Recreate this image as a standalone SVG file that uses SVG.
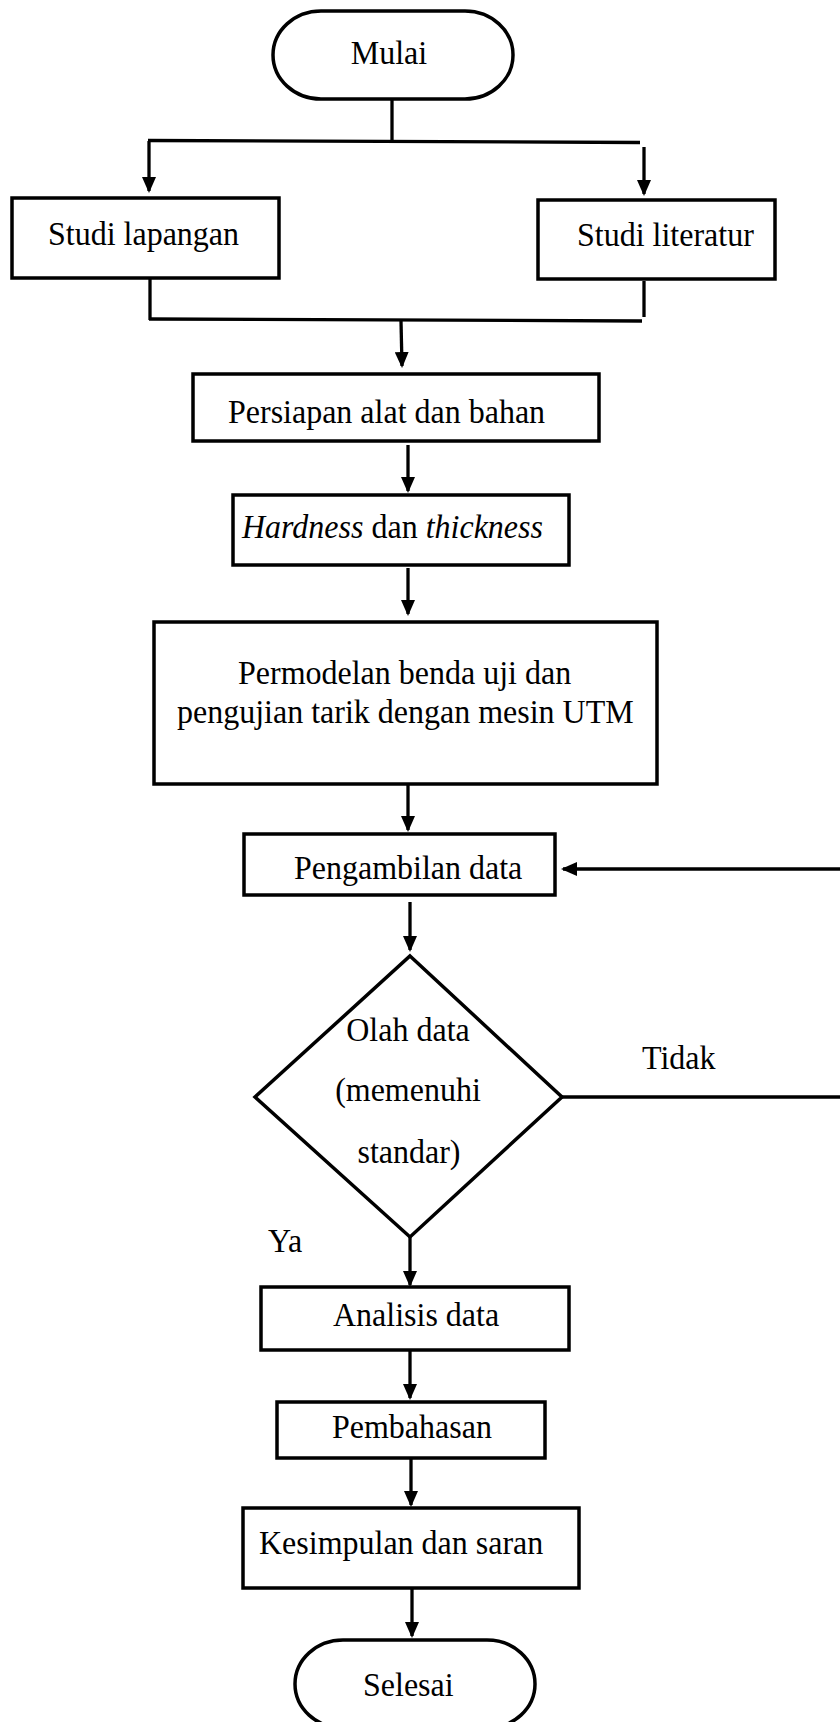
<svg xmlns="http://www.w3.org/2000/svg" width="840" height="1722" viewBox="0 0 840 1722">
<defs>
<style>
.box{fill:#fff;stroke:#000;stroke-width:3.5}
.ln{fill:none;stroke:#000;stroke-width:3.3}
.t{font-family:"Liberation Serif","Times New Roman",serif;font-size:32px;fill:#000;transform-box:fill-box;transform-origin:center;transform:scaleY(1.08)}
.c{text-anchor:middle}
</style>
<marker id="ah" viewBox="0 0 16 14" refX="14" refY="7" markerWidth="16" markerHeight="14" markerUnits="userSpaceOnUse" orient="auto">
<path d="M0,0 L16,7 L0,14 z" fill="#000"/>
</marker>
</defs>
<rect width="840" height="1722" fill="#fff"/>
<g id="connectors">
<path class="ln" d="M392,99 L392,141"/>
<path class="ln" d="M148,140.5 L640,142.5"/>
<path class="ln" d="M149,141 L149,191" marker-end="url(#ah)"/>
<path class="ln" d="M644,147 L644,194" marker-end="url(#ah)"/>
<path class="ln" d="M150,278 L150,320"/>
<path class="ln" d="M644,281 L644,317"/>
<path class="ln" d="M149,319 L642,321"/>
<path class="ln" d="M401,321 L402,366" marker-end="url(#ah)"/>
<path class="ln" d="M408,445 L408,491" marker-end="url(#ah)"/>
<path class="ln" d="M408,568 L408,614" marker-end="url(#ah)"/>
<path class="ln" d="M408,784 L408,830" marker-end="url(#ah)"/>
<path class="ln" d="M840,869 L563,869" marker-end="url(#ah)"/>
<path class="ln" d="M410,902 L410,950" marker-end="url(#ah)"/>
<path class="ln" d="M562,1097 L840,1097"/>
<path class="ln" d="M410,1237 L410,1285" marker-end="url(#ah)"/>
<path class="ln" d="M410,1350 L410,1398" marker-end="url(#ah)"/>
<path class="ln" d="M411,1458 L411,1505" marker-end="url(#ah)"/>
<path class="ln" d="M412,1588 L412,1636" marker-end="url(#ah)"/>
</g>
<g id="mulai">
<rect class="box" x="273" y="11" width="240" height="88" rx="48" ry="44"/>
<text class="t c" x="389" y="63">Mulai</text>
</g>
<g id="studi-lapangan">
<rect class="box" x="12" y="198" width="267" height="80"/>
<text class="t" x="48" y="244">Studi lapangan</text>
</g>
<g id="studi-literatur">
<rect class="box" x="538" y="200" width="237" height="79"/>
<text class="t" x="577" y="245">Studi literatur</text>
</g>
<g id="persiapan">
<rect class="box" x="193" y="374" width="406" height="67"/>
<text class="t" x="228" y="422">Persiapan alat dan bahan</text>
</g>
<g id="hardness">
<rect class="box" x="233" y="495" width="336" height="70"/>
<text class="t" x="242" y="537"><tspan font-style="italic">Hardness</tspan> dan <tspan font-style="italic">thickness</tspan></text>
</g>
<g id="permodelan">
<rect class="box" x="154" y="622" width="503" height="162"/>
<text class="t" x="238" y="683">Permodelan benda uji dan</text>
<text class="t" x="177" y="722">pengujian tarik dengan mesin UTM</text>
</g>
<g id="pengambilan">
<rect class="box" x="244" y="834" width="311" height="61"/>
<text class="t" x="294" y="878">Pengambilan data</text>
</g>
<g id="olah-data">
<polygon class="box" points="410,956 562,1097 410,1237 255,1097"/>
<text class="t c" x="408" y="1040">Olah data</text>
<text class="t c" x="408" y="1100">(memenuhi</text>
<text class="t c" x="409" y="1162">standar)</text>
</g>
<g id="labels">
<text class="t" x="642" y="1068">Tidak</text>
<text class="t" x="268" y="1251">Ya</text>
</g>
<g id="analisis">
<rect class="box" x="261" y="1287" width="308" height="63"/>
<text class="t" x="333" y="1325">Analisis data</text>
</g>
<g id="pembahasan">
<rect class="box" x="277" y="1402" width="268" height="56"/>
<text class="t" x="332" y="1437">Pembahasan</text>
</g>
<g id="kesimpulan">
<rect class="box" x="243" y="1508" width="336" height="80"/>
<text class="t" x="259" y="1553">Kesimpulan dan saran</text>
</g>
<g id="selesai">
<rect class="box" x="295" y="1640" width="240" height="88" rx="48" ry="44"/>
<text class="t" x="363" y="1695">Selesai</text>
</g>
</svg>
